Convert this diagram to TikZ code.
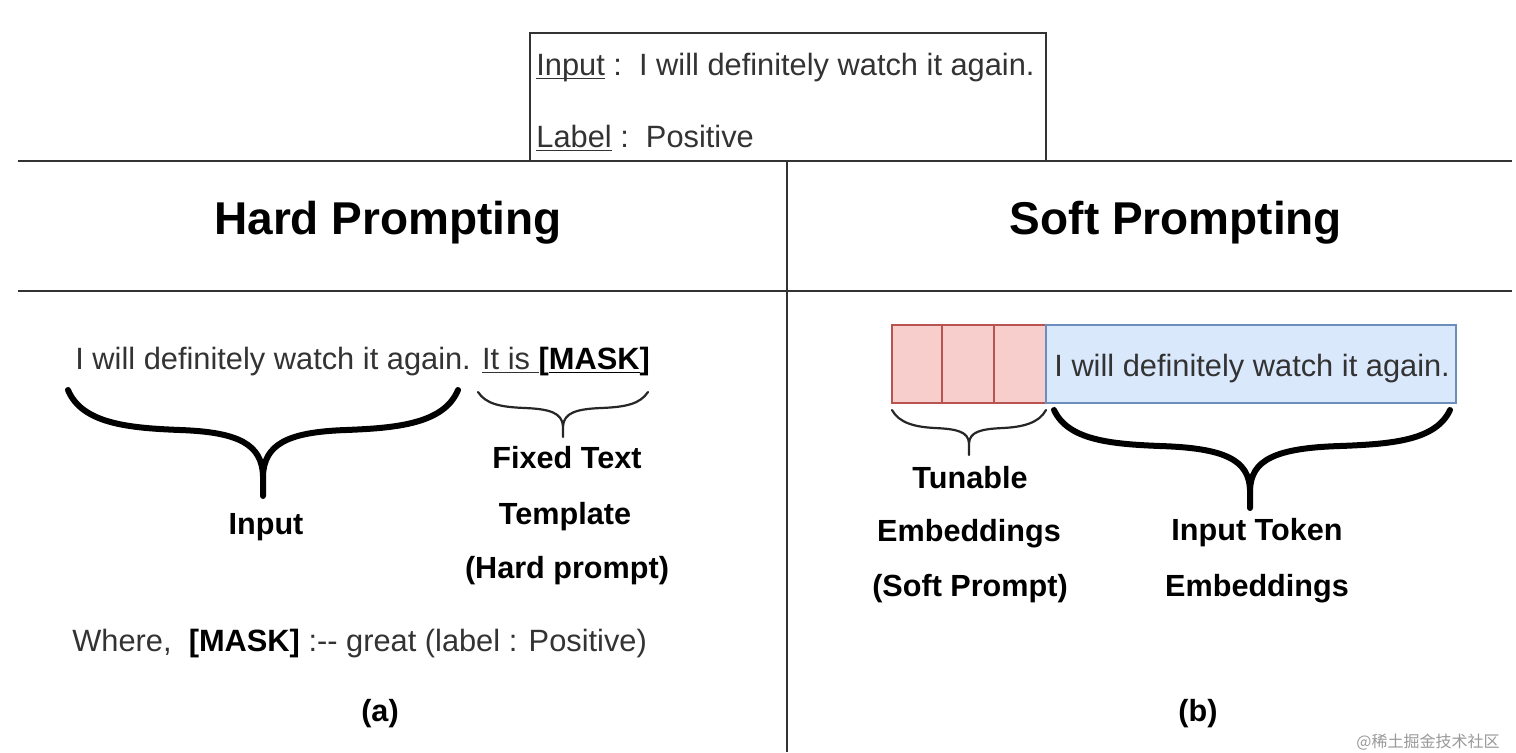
\documentclass[tikz,border=0pt]{standalone}
\usepackage{fontspec}
\setmainfont{Liberation Sans}
\newfontfamily\cjkfont{Noto Sans CJK SC}
\definecolor{ink}{HTML}{333333}
\definecolor{softfill}{HTML}{F8CECC}
\definecolor{softline}{HTML}{B85450}
\definecolor{tokfill}{HTML}{DAE8FC}
\definecolor{tokline}{HTML}{6C8EBF}
% underline drawn just under the baseline, ignoring descenders
\newcommand\baseul[1]{\underline{\smash{#1}}}
\begin{document}
\begin{tikzpicture}[x=0.5pt,y=-0.5pt,
  body/.style={inner sep=0pt,font=\fontsize{15.4}{18}\selectfont,text=ink},
  title/.style={inner sep=0pt,font=\fontsize{23}{27}\selectfont\bfseries,text=black},
  tag/.style={inner sep=0pt,font=\fontsize{15.3}{18}\selectfont\bfseries,text=black},
  rule/.style={draw=ink,line width=1pt},
  thickbrace/.style={draw=black,line width=3pt,line cap=round,line join=round},
  thinbrace/.style={draw=black!85,line width=1.1pt,line cap=round},
  cell/.style={draw=softline,fill=softfill,line width=0.8pt},
  tokens/.style={draw=tokline,fill=tokfill,line width=0.8pt}]
\useasboundingbox[fill=white] (0,0) rectangle (1516,752);

% example box on top
\draw[rule] (530,33) rectangle (1046,161);
\node[body,anchor=west] (inp) at (536,68) {\baseul{Input} :\ \ I will definitely watch it again.};
\node[body,anchor=west] (lab) at (536,138) {\baseul{Label} :\ \ Positive};

% section rules
\draw[rule] (18,161) -- (1512,161);
\draw[rule] (18,291) -- (1512,291);
\draw[rule] (787,161) -- (787,752);

% headings
\node[title] (hard) at (388,223) {Hard Prompting};
\node[title] (soft) at (1176,223) {Soft Prompting};

% (a) hard prompting
\node[body,anchor=west] (sent) at (75,362) {I will definitely watch it again. \baseul{It is }\textbf{\color{black}[\baseul{MASK}]}};

\draw[thickbrace] (68,390) .. controls (82,424) and (130,428) .. (180,430)
  .. controls (238,432) and (262,444) .. (263,476) -- (263,496);
\draw[thickbrace] (458,390) .. controls (444,424) and (396,428) .. (346,430)
  .. controls (288,432) and (264,444) .. (263,476);
\node[tag] (inlab) at (266,527) {Input};

\draw[thinbrace] (478,392) .. controls (486,404) and (500,407) .. (525,408)
  .. controls (550,409) and (562,413) .. (563,426) -- (563,437);
\draw[thinbrace] (648,392) .. controls (640,404) and (626,407) .. (601,408)
  .. controls (576,409) and (564,413) .. (563,426);
\node[tag] (fix1) at (567,458) {Fixed Text};
\node[tag] (fix2) at (565,517) {Template};
\node[tag] (fix3) at (567,571) {(Hard prompt)};

\node[body,anchor=west] (where) at (72,644) {Where,\ \ \textbf{\color{black}[MASK]} :-{}- great (label : Positive)};
\node[tag] (capa) at (380,714) {(a)};

% (b) soft prompting
\draw[cell] (892,325) rectangle (942,403);
\draw[cell] (942,325) rectangle (994,403);
\draw[cell] (994,325) rectangle (1046,403);
\draw[tokens] (1046,325) rectangle (1456,403);
\node[body,anchor=west] (tok) at (1054,369) {I will definitely watch it again.};

\draw[thinbrace] (892,410) .. controls (899,423) and (915,427) .. (935,428)
  .. controls (958,429) and (968,432) .. (969,443) -- (969,455);
\draw[thinbrace] (1046,410) .. controls (1039,423) and (1023,427) .. (1003,428)
  .. controls (980,429) and (970,432) .. (969,443);
\node[tag] (tun1) at (970,478) {Tunable};
\node[tag] (tun2) at (969,534) {Embeddings};
\node[tag] (tun3) at (970,589) {(Soft Prompt)};

\draw[thickbrace] (1054,410) .. controls (1068,440) and (1110,444) .. (1160,446)
  .. controls (1225,448) and (1249,460) .. (1250,490) -- (1250,508);
\draw[thickbrace] (1450,410) .. controls (1436,440) and (1394,444) .. (1340,446)
  .. controls (1275,448) and (1251,460) .. (1250,490);
\node[tag] (itk1) at (1257,533) {Input Token};
\node[tag] (itk2) at (1257,589) {Embeddings};
\node[tag] (capb) at (1198,714) {(b)};

\node[inner sep=0pt,anchor=east,text=black!40,font=\cjkfont\fontsize{8}{10}\selectfont] (wm) at (1500,742) {@稀土掘金技术社区};
\end{tikzpicture}
\end{document}
